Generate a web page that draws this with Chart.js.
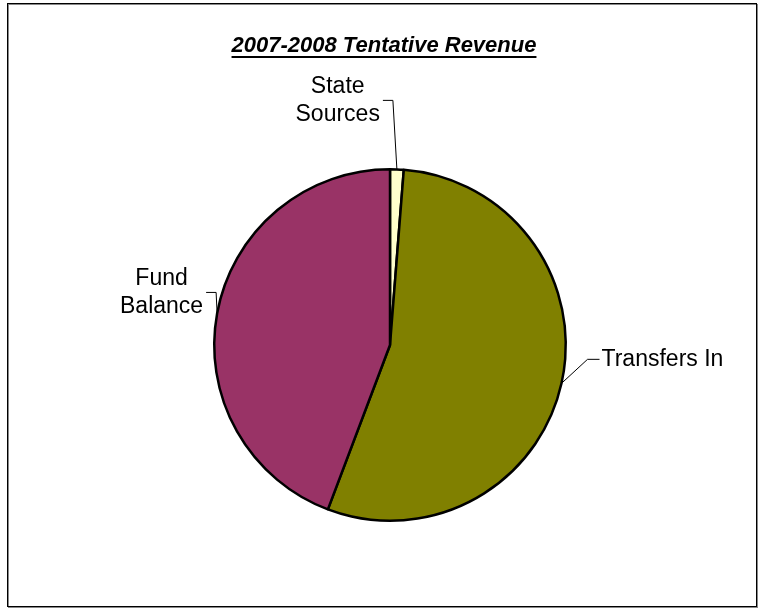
<!DOCTYPE html>
<html>
<head>
  <title>2007-2008 Tentative Revenue</title>
  <script src="https://cdn.jsdelivr.net/npm/chart.js"></script>
  <style>
    html, body { margin: 0; padding: 0; background: #fff; }
    #wrap { width: 762px; height: 609px; position: relative; }
  </style>
</head>
<body>
<div id="wrap"><canvas id="revenueChart"></canvas></div>
<script>
  // revenue shares, clockwise from 12 o'clock
  const categories = ['State Sources', 'Transfers In', 'Fund Balance'];
  const shares = [1.25, 54.5, 44.25];
  const sliceColors = ['#FFFFCC', '#808000', '#993366'];
  const chartTitle = '2007-2008 Tentative Revenue';

  // label text lines and where the leader line bends (relative to slice edge)
  const labelLines = [['State', 'Sources'], ['Transfers In'], ['Fund', 'Balance']];
  const leaders = [
    { dx: -4, dy: -69, run: -10, side: 'left' },
    { dx: 26, dy: -24, run: 12, side: 'right' },
    { dx: -1, dy: -21, run: -10, side: 'left' }
  ];

  const labelFont = '23px "Liberation Sans", Arial, sans-serif';

  const frameAndLabels = {
    id: 'frameAndLabels',
    beforeDraw(chart) {
      const c = chart.ctx;
      c.save();
      c.fillStyle = '#fff';
      c.fillRect(0, 0, chart.width, chart.height);
      c.strokeStyle = '#888';
      c.lineWidth = 1;
      c.strokeRect(8.5, 4.5, 749, 603);
      c.strokeStyle = '#000';
      c.strokeRect(7.5, 3.5, 749, 603);
      c.restore();
    },
    afterDraw(chart) {
      const c = chart.ctx;
      c.save();

      // underlined bold italic title
      c.font = 'italic bold 22px "Liberation Sans", Arial, sans-serif';
      c.fillStyle = '#000';
      c.textAlign = 'center';
      c.textBaseline = 'alphabetic';
      const tx = 384, ty = 52;
      c.fillText(chartTitle, tx, ty);
      const tw = c.measureText(chartTitle).width;
      c.fillRect(tx - tw / 2, ty + 4, tw, 2);

      // leader lines and category labels
      const arcs = chart.getDatasetMeta(0).data;
      c.font = labelFont;
      c.textBaseline = 'middle';
      arcs.forEach((arc, i) => {
        const p = arc.getProps(['x', 'y', 'startAngle', 'endAngle', 'outerRadius'], true);
        const mid = (p.startAngle + p.endAngle) / 2;
        const ax = p.x + p.outerRadius * Math.cos(mid);
        const ay = p.y + p.outerRadius * Math.sin(mid);
        const l = leaders[i];
        const bx = ax + l.dx, by = ay + l.dy;
        const ex = bx + l.run;
        c.strokeStyle = '#000';
        c.lineWidth = 1;
        c.beginPath();
        c.moveTo(ax, ay);
        c.lineTo(bx, by);
        c.lineTo(ex, by);
        c.stroke();

        const lines = labelLines[i];
        const widest = Math.max(...lines.map(s => c.measureText(s).width));
        const lh = 28;
        const top = by - (lines.length - 1) * lh / 2;
        c.textAlign = 'center';
        const cx = l.side === 'left' ? ex - 3 - widest / 2 : ex + 2 + widest / 2;
        lines.forEach((s, k) => c.fillText(s, cx, top + k * lh));
      });
      c.restore();
    }
  };

  const ctx = document.getElementById('revenueChart').getContext('2d');
  new Chart(ctx, {
    type: 'pie',
    data: {
      labels: categories,
      datasets: [{
        data: shares,
        backgroundColor: sliceColors,
        borderColor: '#000',
        borderWidth: 2.5
      }]
    },
    options: {
      responsive: true,
      maintainAspectRatio: false,
      animation: false,
      layout: { padding: { left: 213, right: 195, top: 168, bottom: 87 } },
      plugins: {
        legend: { display: false },
        title: { display: false },
        tooltip: { enabled: false }
      }
    },
    plugins: [frameAndLabels]
  });
</script>
</body>
</html>
